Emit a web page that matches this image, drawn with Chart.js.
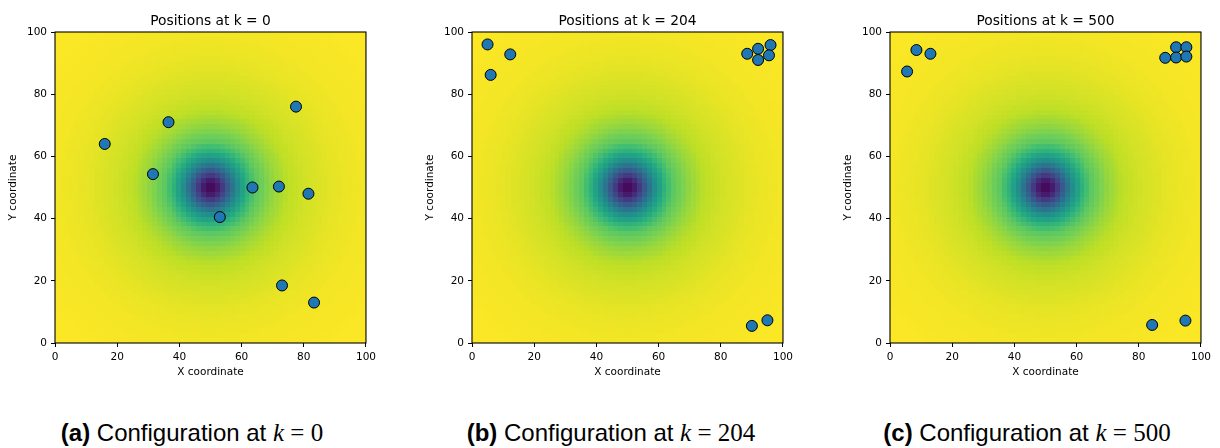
<!DOCTYPE html>
<html>
<head>
<meta charset="utf-8">
<script src="https://cdn.jsdelivr.net/npm/chart.js@4.4.1/dist/chart.umd.min.js"></script>
<style>
  body { margin: 0; width: 1220px; height: 448px; overflow: hidden; background: #fff; position: relative; }
  .panel { position: absolute; top: 0; width: 380px; height: 390px; }
  .cap { position: absolute; top: 419px; transform: translateX(-50%); white-space: nowrap; color: #000;
         font-family: "Liberation Sans", Arial, sans-serif; font-size: 24px; }
  .cap .m { font-family: "Liberation Serif", "DejaVu Serif", serif; font-size: 25px; }
</style>
</head>
<body>
<canvas id="p0" class="panel" width="380" height="390" style="left:0px"></canvas>
<canvas id="p1" class="panel" width="380" height="390" style="left:417px"></canvas>
<canvas id="p2" class="panel" width="380" height="390" style="left:835px"></canvas>
<div class="cap" style="left:192px"><b>(a)</b> Configuration at <span class="m"><i>k</i> = 0</span></div>
<div class="cap" style="left:611px"><b>(b)</b> Configuration at <span class="m"><i>k</i> = 204</span></div>
<div class="cap" style="left:1027px"><b>(c)</b> Configuration at <span class="m"><i>k</i> = 500</span></div>
<script>
// positions
const panelTitles = ['Positions at k = 0', 'Positions at k = 204', 'Positions at k = 500'];
const xK0 = [16, 36.5, 31.5, 77.5, 63.5, 72, 81.5, 53, 73, 83.3];
const yK0 = [64, 71, 54.3, 76, 50, 50.3, 48, 40.5, 18.5, 13];
const xK204 = [5, 6, 12.3, 88.5, 92, 92, 96, 95.5, 90, 95];
const yK204 = [96, 86.2, 92.8, 93, 94.6, 91, 95.8, 92.5, 5.5, 7.3];
const xK500 = [5.5, 8.5, 13, 88.5, 92, 92, 95.3, 95.3, 84.3, 95];
const yK500 = [87.3, 94.2, 93, 91.7, 95.1, 91.8, 95.1, 92.1, 5.8, 7.2];
const axisTicks = [0, 20, 40, 60, 80, 100];

// background field: colour level against distance from the centre (50, 50)
const fieldCentre = [50, 50];
const fieldRadius = [0, 2, 4, 6, 8, 10, 12, 15, 20, 25, 30, 40, 50, 60, 71];
const fieldLevel = [0.0, 0.05, 0.17, 0.31, 0.45, 0.56, 0.65, 0.75, 0.84, 0.9, 0.93, 0.965, 0.985, 0.993, 1.0];
const gridCells = 64;

const viridis = ['#440154', '#482475', '#414487', '#355f8d', '#2a788e', '#21918c',
                 '#22a884', '#44bf70', '#7ad151', '#bddf26', '#fde725'];

function hexRgb(h) {
  return [parseInt(h.slice(1, 3), 16), parseInt(h.slice(3, 5), 16), parseInt(h.slice(5, 7), 16)];
}
const viridisRgb = viridis.map(hexRgb);

function colourFor(t) {
  t = Math.max(0, Math.min(1, t));
  const p = t * (viridisRgb.length - 1);
  const i = Math.min(Math.floor(p), viridisRgb.length - 2);
  const f = p - i;
  const a = viridisRgb[i], b = viridisRgb[i + 1];
  return 'rgb(' + a.map((v, k) => Math.round(v + (b[k] - v) * f)).join(',') + ')';
}

function levelAt(r) {
  for (let i = 1; i < fieldRadius.length; i++) {
    if (r <= fieldRadius[i]) {
      const f = (r - fieldRadius[i - 1]) / (fieldRadius[i] - fieldRadius[i - 1]);
      return fieldLevel[i - 1] + (fieldLevel[i] - fieldLevel[i - 1]) * f;
    }
  }
  return fieldLevel[fieldLevel.length - 1];
}

const fieldPlugin = {
  id: 'field',
  beforeDatasetsDraw(chart) {
    const { ctx, scales: { x, y } } = chart;
    const step = 100 / gridCells;
    ctx.save();
    for (let i = 0; i < gridCells; i++) {
      const px0 = Math.round(x.getPixelForValue(i * step));
      const px1 = Math.round(x.getPixelForValue((i + 1) * step));
      for (let j = 0; j < gridCells; j++) {
        const py0 = Math.round(y.getPixelForValue((j + 1) * step));
        const py1 = Math.round(y.getPixelForValue(j * step));
        const r = Math.hypot((i + 0.5) * step - fieldCentre[0], (j + 0.5) * step - fieldCentre[1]);
        ctx.fillStyle = colourFor(levelAt(r));
        ctx.fillRect(px0, py0, px1 - px0, py1 - py0);
      }
    }
    ctx.restore();
  },
  afterDatasetsDraw(chart) {
    const { ctx, chartArea: a } = chart;
    ctx.save();
    ctx.strokeStyle = '#000';
    ctx.lineWidth = 1.1;
    ctx.strokeRect(a.left, a.top, a.right - a.left, a.bottom - a.top);
    ctx.restore();
  },
  afterDraw(chart) {
    const { ctx, chartArea: a } = chart;
    ctx.save();
    ctx.fillStyle = '#000';
    ctx.font = '13.8px "DejaVu Sans"';
    ctx.textAlign = 'center';
    ctx.textBaseline = 'alphabetic';
    ctx.fillText(chart.options.plugins.panelTitle, (a.left + a.right) / 2, 24.5);
    ctx.restore();
  }
};

const tickFont = { family: 'DejaVu Sans', size: 10.5 };

function axis(label, isX) {
  return {
    type: 'linear',
    min: 0,
    max: 100,
    afterBuildTicks(s) { s.ticks = axisTicks.map(v => ({ value: v })); },
    ticks: { color: '#000', font: tickFont, padding: 4, maxRotation: 0 },
    grid: { drawOnChartArea: false, drawTicks: true, tickLength: 4, color: '#000', lineWidth: 1 },
    border: { display: false },
    title: {
      display: true, text: label, color: '#000', font: tickFont,
      padding: isX ? { top: 0, bottom: 11.7 } : { top: 7.2, bottom: 0 }
    },
    afterFit(s) { if (isX) s.height = 47; else s.width = 55; }
  };
}

function makePanel(id, title, xs, ys, rightPad) {
  new Chart(document.getElementById(id), {
    type: 'scatter',
    data: {
      datasets: [{
        data: xs.map((v, i) => ({ x: v, y: ys[i] })),
        backgroundColor: '#1f77b4',
        borderColor: '#000',
        borderWidth: 1,
        pointRadius: 5.5,
        pointHoverRadius: 5.5,
        clip: false
      }]
    },
    options: {
      responsive: false,
      animation: false,
      events: [],
      layout: { autoPadding: false, padding: { left: 0, right: rightPad, top: 32, bottom: 0 } },
      scales: { x: axis('X coordinate', true), y: axis('Y coordinate', false) },
      plugins: { legend: { display: false }, tooltip: { enabled: false }, panelTitle: title }
    },
    plugins: [fieldPlugin]
  });
}

makePanel('p0', panelTitles[0], xK0, yK0, 14);
makePanel('p1', panelTitles[1], xK204, yK204, 13);
makePanel('p2', panelTitles[2], xK500, yK500, 14);
</script>
</body>
</html>
